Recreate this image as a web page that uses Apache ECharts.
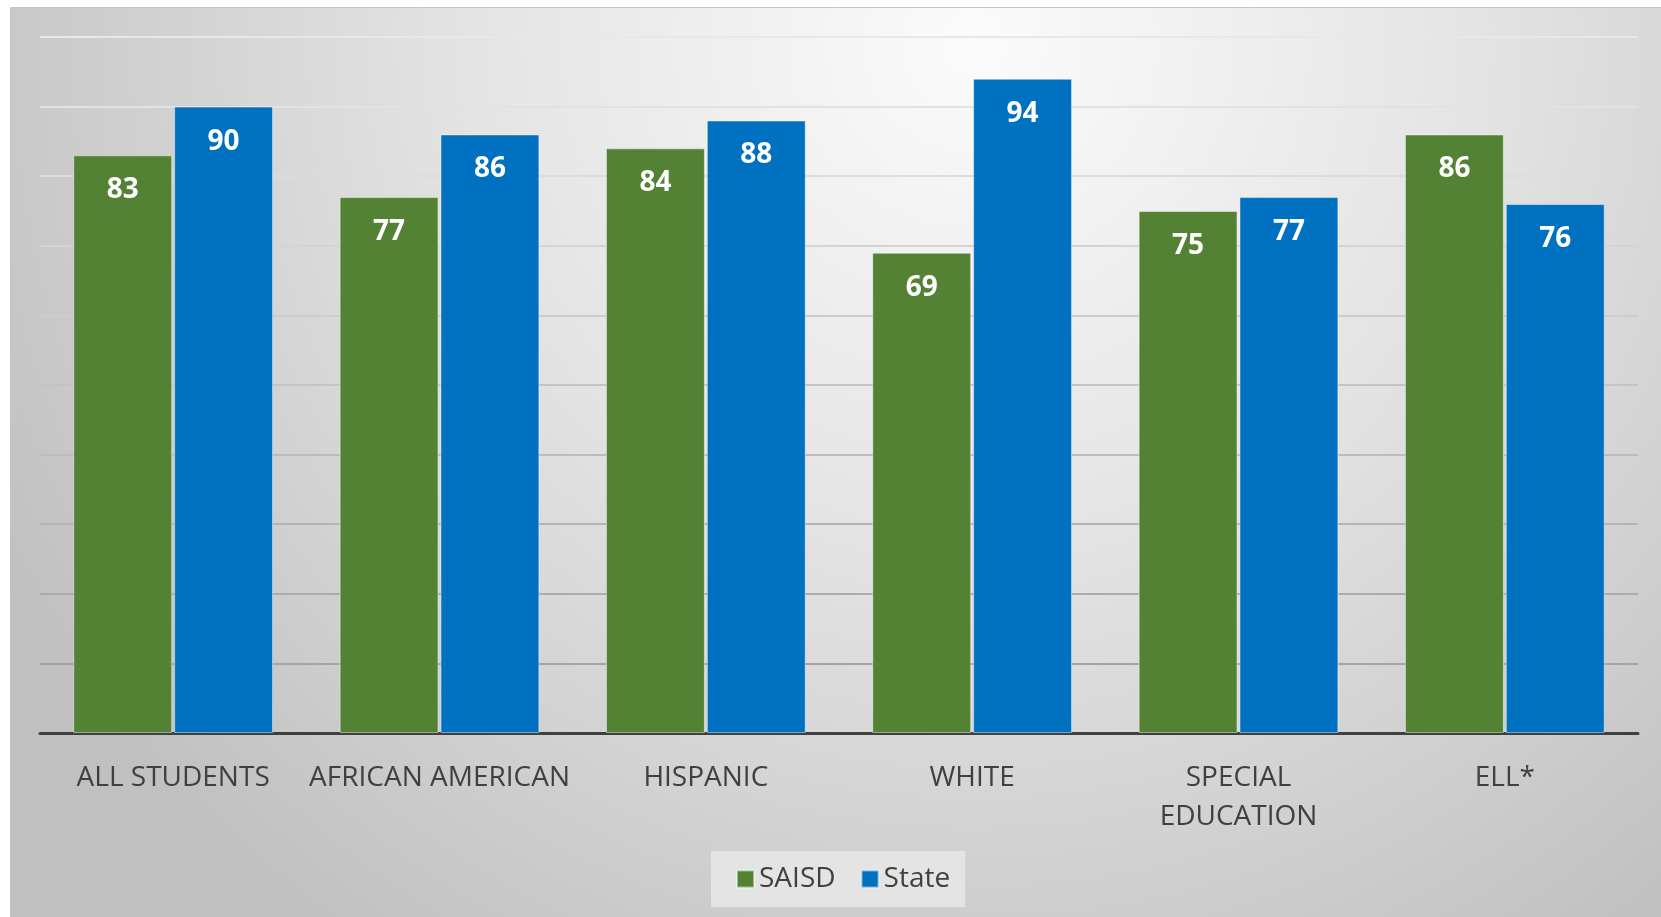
<!DOCTYPE html>
<html>
<head>
<meta charset="utf-8">
<style>
html,body{margin:0;padding:0;background:#ffffff;}
#chart{width:1661px;height:917px;}
</style>
<script src="https://cdn.jsdelivr.net/npm/echarts@6/dist/echarts.min.js"></script>
</head>
<body>
<div id="chart"></div>
<script>
const categories = ['ALL STUDENTS', 'AFRICAN AMERICAN', 'HISPANIC', 'WHITE', 'SPECIAL\nEDUCATION', 'ELL*'];
const saisdValues = [83, 77, 84, 69, 75, 86];
const stateValues = [90, 86, 88, 94, 77, 76];
const seriesNames = ['SAISD', 'State'];
const yMin = 0, yMax = 100, yInterval = 10;

const chart = echarts.init(document.getElementById('chart'), null, {renderer: 'canvas'});

const gridColors = ['#999999', '#a4a4a4', '#acacac', '#b4b4b4', '#bcbcbc', '#c4c4c4', '#cccccc', '#d4d4d4', '#dcdcdc', '#e2e2e2', '#e8e8e8'];

const labelStyle = {
  show: true,
  position: 'insideTop',
  distance: 21,
  color: '#ffffff',
  fontFamily: 'Open Sans',
  fontWeight: 'bold',
  fontSize: 28
};

chart.setOption({
  animation: false,
  backgroundColor: '#ffffff',
  graphic: [{
    type: 'rect',
    z: -100,
    silent: true,
    shape: {x: 10.5, y: 7.5, width: 1660, height: 920},
    style: {
      fill: {
        type: 'radial', x: 0.58, y: 0.04, r: 1.2,
        colorStops: [
          {offset: 0, color: '#fbfbfb'},
          {offset: 0.45, color: '#e4e4e4'},
          {offset: 1, color: '#c0c0c0'}
        ]
      },
      stroke: '#c4c4c4',
      lineWidth: 1
    }
  }],
  grid: {left: 40, right: 23, top: 37, bottom: 184, containLabel: false},
  legend: {
    data: seriesNames,
    left: 711,
    top: 851,
    padding: [14, 15, 14, 25],
    backgroundColor: 'rgba(232,232,232,0.85)',
    itemWidth: 17,
    itemHeight: 17,
    itemGap: 25,
    icon: 'rect',
    textStyle: {color: '#404040', fontFamily: 'Open Sans', fontSize: 28, padding: [0, 0, 0, 0]}
  },
  xAxis: {
    type: 'category',
    data: categories,
    axisTick: {show: false},
    axisLine: {lineStyle: {color: '#404040', width: 3}},
    axisLabel: {
      interval: 0,
      margin: 26,
      color: '#404040',
      fontFamily: 'Open Sans',
      fontSize: 28,
      lineHeight: 39
    }
  },
  yAxis: {
    type: 'value',
    min: yMin,
    max: yMax,
    interval: yInterval,
    axisLabel: {show: false},
    axisLine: {show: false},
    axisTick: {show: false},
    splitLine: {lineStyle: {color: gridColors, width: 2}}
  },
  series: [
    {
      name: seriesNames[0],
      type: 'bar',
      data: saisdValues,
      barGap: '2%',
      barCategoryGap: '25%',
      itemStyle: {color: '#548235', borderColor: 'rgba(255,255,255,0.45)', borderWidth: 1},
      label: labelStyle
    },
    {
      name: seriesNames[1],
      type: 'bar',
      data: stateValues,
      barGap: '2%',
      barCategoryGap: '25%',
      itemStyle: {color: '#0070C0', borderColor: 'rgba(255,255,255,0.45)', borderWidth: 1},
      label: labelStyle
    }
  ]
});
</script>
</body>
</html>
